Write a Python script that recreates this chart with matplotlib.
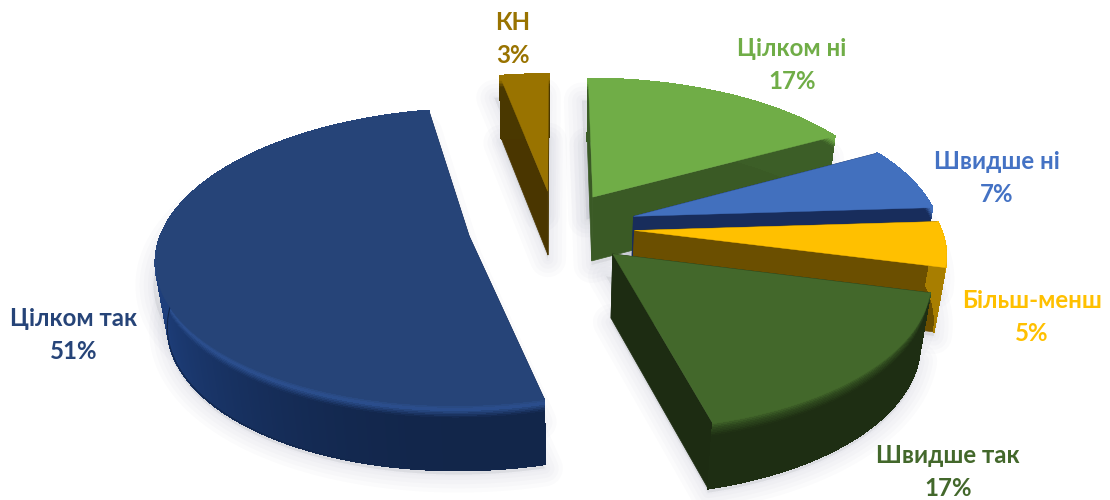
import numpy as np
import matplotlib
matplotlib.use("Agg")
import matplotlib.pyplot as plt
from matplotlib.collections import PolyCollection
from matplotlib.colors import to_rgb

plt.rcParams['font.family'] = ['Lato', 'Noto Sans', 'DejaVu Sans']

categories = ['Цілком ні', 'Швидше ні', 'Більш-менш', 'Швидше так', 'Цілком так', 'КН']
values = [17, 7, 5, 17, 51, 3]

explode = [0.25, 0.27, 0.26, 0.26, 0.285, 0.26]
top_colors = ['#70ad47', '#4270be', '#ffc000', '#43682b', '#264478', '#997300']
side_colors = ['#3c5e27', '#182d5c', '#a87e00', '#1e2e13', '#1e3f7c', '#4a3800']
face_colors = ['#3a5a25', '#182d5c', '#6b4f00', '#1d2c12', '#16284e', '#4a3600']
bevel_colors = ['#70ad47', '#4270be', '#e0a800', '#2f4a1e', '#2c5090', '#997300']
label_colors = ['#70ad47', '#4472c4', '#ffc000', '#43682b', '#264478', '#997300']
label_pos = [(792, 65), (997, 178), (1032, 317), (948, 472), (74, 335), (513, 39)]

CX, CY, RX, RY, K, DEPTH = 555, 227, 306, 143, 0.14, 64


def project(X, Y, z=0.0):
    X, Y = np.asarray(X, float), np.asarray(Y, float)
    f = 1 / (1 + K * Y)
    return np.column_stack([
        CX + RX * X * f * (1 - 0.03 * z) * np.ones_like(X),
        CY - RY * Y * f + DEPTH * z * f ** 0.1,
    ])


def mix(a, b, t):
    a, b = np.array(to_rgb(a)), np.array(to_rgb(b))
    return tuple(a + (b - a) * t)


fig = plt.figure(figsize=(11.1, 5), dpi=100)
ax = fig.add_axes([0, 0, 1, 1])
ax.set_xlim(0, 1110)
ax.set_ylim(500, 0)
ax.axis('off')

edges = np.concatenate([[0], np.cumsum(values)]) / sum(values) * 2 * np.pi
slices = []
for i, v in enumerate(values):
    a0, a1 = edges[i], edges[i + 1]
    mid = (a0 + a1) / 2
    ox, oy = explode[i] * np.sin(mid), explode[i] * np.cos(mid)
    th = np.linspace(a0, a1, max(6, int(v * 6)))
    slices.append((i, th, ox, oy))

# faint soft shadow under the pieces
for width in (26, 20, 14, 8, 3):
    for i, th, ox, oy in slices:
        X = np.r_[ox, ox + np.sin(th)]
        Y = np.r_[oy, oy + np.cos(th)]
        p = project(X, Y, 1.0) + np.array([0, 4])
        q = project(X, Y, 0.35) + np.array([-6, 0])
        for pts in (p, q):
            ax.fill(pts[:, 0], pts[:, 1], facecolor='#8a8fa0', edgecolor='#8a8fa0',
                    alpha=0.03, lw=width, joinstyle='round', zorder=1)

bands = np.r_[np.linspace(0, 0.2, 9), 1.0]
for n, (i, th, ox, oy) in enumerate(slices):
    z0 = 10 + n * 5
    apex = project([ox], [oy], 0)[0]
    apex_b = project([ox], [oy], 1)[0]
    for ang in (th[0], th[-1]):
        e_t = project([ox + np.sin(ang)], [oy + np.cos(ang)], 0)[0]
        e_b = project([ox + np.sin(ang)], [oy + np.cos(ang)], 1)[0]
        ax.fill(*np.array([apex, e_t, e_b, apex_b]).T, color=face_colors[i], lw=0.5, zorder=z0)
    # outer wall, shaded along the angle and the height
    fine = np.linspace(th[0], th[-1], len(th) * 4)
    polys, cols = [], []
    for b0, b1 in zip(bands[:-1], bands[1:]):
        t = project(ox + np.sin(fine), oy + np.cos(fine), b0)
        u = project(ox + np.sin(fine), oy + np.cos(fine), b1)
        zm = (b0 + b1) / 2
        for j in range(len(fine) - 1):
            polys.append([t[j], t[j + 1], u[j + 1], u[j]])
            angm = (fine[j] + fine[j + 1]) / 2
            shade = 0.6 + 0.4 * np.clip(-np.sin(angm), 0, 1) ** 2 if i == 4 else 1.0
            base = tuple(np.array(to_rgb(side_colors[i])) * shade)
            if zm < 0.08:
                c = mix(top_colors[i], bevel_colors[i], zm / 0.08)
            elif zm < 0.2:
                c = mix(bevel_colors[i], base, (zm - 0.08) / 0.12)
            else:
                c = base
            cols.append(c)
    ax.add_collection(PolyCollection(polys, facecolors=cols, edgecolors=cols, linewidths=0.6,
                                     antialiaseds=False, zorder=z0 + 1))
    low = project(ox + np.sin(fine), oy + np.cos(fine), 1)
    ax.plot(low[:, 0], low[:, 1], color=cols[-1], lw=0.8, zorder=z0 + 1)
    # top surface
    X = np.r_[ox, ox + np.sin(fine)]
    Y = np.r_[oy, oy + np.cos(fine)]
    ax.fill(*project(X, Y, 0).T, color=top_colors[i], lw=0.3, zorder=z0 + 2)

for name, v, col, (lx, ly) in zip(categories, values, label_colors, label_pos):
    ax.text(lx, ly, f'{name}\n{v}%', color=col, ha='center', va='center',
            fontsize=17.3, fontweight='bold', linespacing=1.5, zorder=60)

fig.savefig('out.png', dpi=100)
